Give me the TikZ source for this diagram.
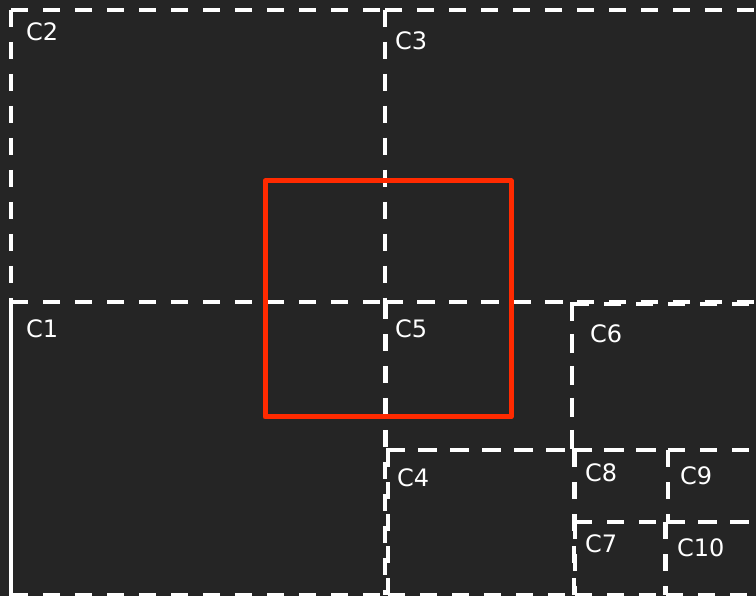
\documentclass[tikz,border=0pt]{standalone}
\usepackage{fontspec}
\setmainfont{DejaVu Sans}
\definecolor{bg}{HTML}{252525}
\definecolor{redbox}{HTML}{FF2A00}
\newcommand\cellbox[4]{%
  \draw[cell] (#1,#2) -- (#3,#2);
  \draw[cell] (#1,#2) -- (#1,#4);
  \draw[cell] (#3,#2) -- (#3,#4);
  \draw[cell] (#1,#4) -- (#3,#4);}
\begin{document}
\begin{tikzpicture}[x=1pt,y=-1pt,
  cell/.style={draw=white, line width=3.2pt, dash pattern=on 17pt off 15pt},
  lbl/.style={text=white, font=\fontsize{24}{28}\selectfont, anchor=west, inner sep=0pt},
  sel/.style={draw=redbox, line width=5pt, line join=round}]
\fill[bg] (0,0) rectangle (756,596);
\useasboundingbox (0,0) rectangle (756,596);
% cells
\cellbox{11}{10}{385}{302}
\cellbox{385}{10}{770}{302}
\cellbox{11}{302}{385}{595}
\cellbox{386}{302}{572}{450}
\cellbox{572}{304}{770}{450}
\cellbox{388}{450}{574}{595}
\cellbox{575}{450}{668}{522}
\cellbox{668}{450}{770}{522}
\cellbox{575}{522}{665}{595}
\cellbox{666}{522}{770}{595}
\draw[white, line width=3.2pt] (11,302) -- (11,596);
% labels
\node[lbl] (c2) at (26,32) {C2};
\node[lbl] (c3) at (395,41) {C3};
\node[lbl] (c1) at (26,329) {C1};
\node[lbl] (c5) at (395,329) {C5};
\node[lbl] (c6) at (590,334) {C6};
\node[lbl] (c4) at (397,478) {C4};
\node[lbl] (c8) at (585,473) {C8};
\node[lbl] (c9) at (680,476) {C9};
\node[lbl] (c7) at (585,544) {C7};
\node[lbl] (c10) at (677,548) {C10};
% selection
\draw[sel] (265,181) rectangle (511,417);
\end{tikzpicture}
\end{document}
